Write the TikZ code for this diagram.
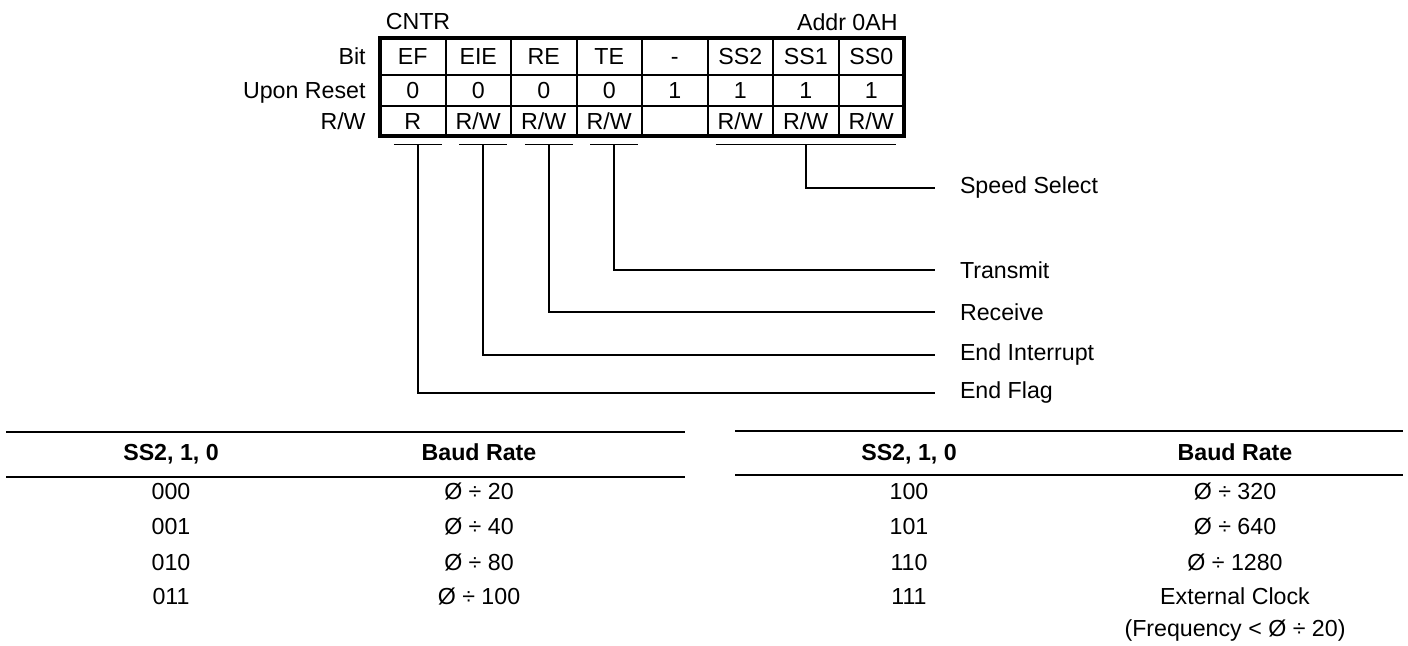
\documentclass[tikz,border=0pt]{standalone}
\usepackage{fontspec}
\setmainfont{Liberation Sans}
\usetikzlibrary{positioning}
\newcommand{\regfont}{\fontsize{11.6}{16}\selectfont}

\begin{document}
\begin{tikzpicture}[
        x=0.5pt, y=-0.5pt,
        font=\regfont,
        cell/.style={rectangle, draw, line width=1pt, inner sep=0pt,
                     outer sep=0pt, minimum width=32.75pt,
                     text height=8.3pt, text depth=0pt},
        bitcell/.style={cell, minimum height=18.5pt},
        rstcell/.style={cell, minimum height=15.5pt},
        rwcell/.style={cell, minimum height=15pt},
        rowlbl/.style={inner sep=0pt, text height=8.3pt, text depth=0pt},
        brk/.style={inner sep=0pt, minimum height=0pt, minimum width=23.5pt},
        lead/.style={line width=0.85pt},
        lbl/.style={anchor=west, inner sep=0pt, outer sep=12.5pt},
        rule/.style={line width=1.1pt},
        hdr/.style={anchor=base, font=\regfont\bfseries},
        val/.style={anchor=base}
      ]
      \useasboundingbox (0,0) rectangle (1408,646);

      % register CNTR
      \node (cntr) at (418,22) {CNTR};
      \node[anchor=east, inner sep=0pt] (addr) at (898,22) {Addr 0AH};

      \node[bitcell] (ef) at (412.75,56.5) {EF};
      \node[bitcell, right=0pt of ef] (eie) {EIE};
      \node[bitcell, right=0pt of eie] (re) {RE};
      \node[bitcell, right=0pt of re] (te) {TE};
      \node[bitcell, right=0pt of te] (na) {-};
      \node[bitcell, right=0pt of na] (ss2) {SS2};
      \node[bitcell, right=0pt of ss2] (ss1) {SS1};
      \node[bitcell, right=0pt of ss1] (ss0) {SS0};

      \node[rstcell, below=0pt of ef] (ref) {0};
      \node[rstcell, below=0pt of eie] (reie) {0};
      \node[rstcell, below=0pt of re] (rre) {0};
      \node[rstcell, below=0pt of te] (rte) {0};
      \node[rstcell, below=0pt of na] (rna) {1};
      \node[rstcell, below=0pt of ss2] (rss2) {1};
      \node[rstcell, below=0pt of ss1] (rss1) {1};
      \node[rstcell, below=0pt of ss0] (rss0) {1};

      \node[rwcell, below=0pt of ref] (wef) {R};
      \node[rwcell, below=0pt of reie] (weie) {R/W};
      \node[rwcell, below=0pt of rre] (wre) {R/W};
      \node[rwcell, below=0pt of rte] (wte) {R/W};
      \node[rwcell, below=0pt of rna] (wna) {};
      \node[rwcell, below=0pt of rss2] (wss2) {R/W};
      \node[rwcell, below=0pt of rss1] (wss1) {R/W};
      \node[rwcell, below=0pt of rss0] (wss0) {R/W};

      \draw[line width=2pt] (ef.north west) rectangle (wss0.south east);

      \node[rowlbl, left=7pt of ef] (lbit) {Bit};
      \node[rowlbl, left=7pt of ref] (lrst) {Upon Reset};
      \node[rowlbl, left=7pt of wef] (lrw) {R/W};

      % field brackets
      \node[brk, below=4pt of wef, xshift=2.5pt] (kef) {};
      \node[brk, below=4pt of weie, xshift=2.5pt] (keie) {};
      \node[brk, below=4pt of wre, xshift=2.5pt] (kre) {};
      \node[brk, below=4pt of wte, xshift=2.5pt] (kte) {};
      \node[brk, below=4pt of wss1, minimum width=89.5pt] (kss) {};
      \draw[lead] (kef.west) -- (kef.east);
      \draw[lead] (keie.west) -- (keie.east);
      \draw[lead] (kre.west) -- (kre.east);
      \draw[lead] (kte.west) -- (kte.east);
      \draw[lead] (kss.west) -- (kss.east);

      % field names
      \node[lbl] (spd) at (935,188) {Speed Select};
      \node[lbl] (tx) at (935,270) {Transmit};
      \node[lbl] (rx) at (935,312) {Receive};
      \node[lbl] (eint) at (935,355) {End Interrupt};
      \node[lbl] (eflg) at (935,393) {End Flag};

      \draw[lead] (kss.center) |- (spd.west);
      \draw[lead] (kte.center) |- (tx.west);
      \draw[lead] (kre.center) |- (rx.west);
      \draw[lead] (keie.center) |- (eint.west);
      \draw[lead] (kef.center) |- (eflg.west);

      % baud rate, SS2..0 = 0xx
      \draw[rule] (6,432) -- (685,432);
      \draw[rule] (6,477) -- (685,477);
      \node[hdr] (lsel) at (171,460.5) {SS2, 1, 0};
      \node[hdr] (lbaud) at (479,460.5) {Baud Rate};
      \node[val] (s000) at (171,499.5) {000};
      \node[val] (b000) at (479,499.5) {Ø ÷ 20};
      \node[val] (s001) at (171,534.5) {001};
      \node[val] (b001) at (479,534.5) {Ø ÷ 40};
      \node[val] (s010) at (171,570.5) {010};
      \node[val] (b010) at (479,570.5) {Ø ÷ 80};
      \node[val] (s011) at (171,604.5) {011};
      \node[val] (b011) at (479,604.5) {Ø ÷ 100};

      % baud rate, SS2..0 = 1xx
      \draw[rule] (735,431) -- (1403,431);
      \draw[rule] (735,475) -- (1403,475);
      \node[hdr] (rsel) at (909,460.5) {SS2, 1, 0};
      \node[hdr] (rbaud) at (1235,460.5) {Baud Rate};
      \node[val] (s100) at (909,499.5) {100};
      \node[val] (b100) at (1235,499.5) {Ø ÷ 320};
      \node[val] (s101) at (909,534.5) {101};
      \node[val] (b101) at (1235,534.5) {Ø ÷ 640};
      \node[val] (s110) at (909,570.5) {110};
      \node[val] (b110) at (1235,570.5) {Ø ÷ 1280};
      \node[val] (s111) at (909,604.5) {111};
      \node[val, align=center] (b111) at (1235,636.5) {External Clock\\(Frequency < Ø ÷ 20)};
    \end{tikzpicture}
\end{document}
